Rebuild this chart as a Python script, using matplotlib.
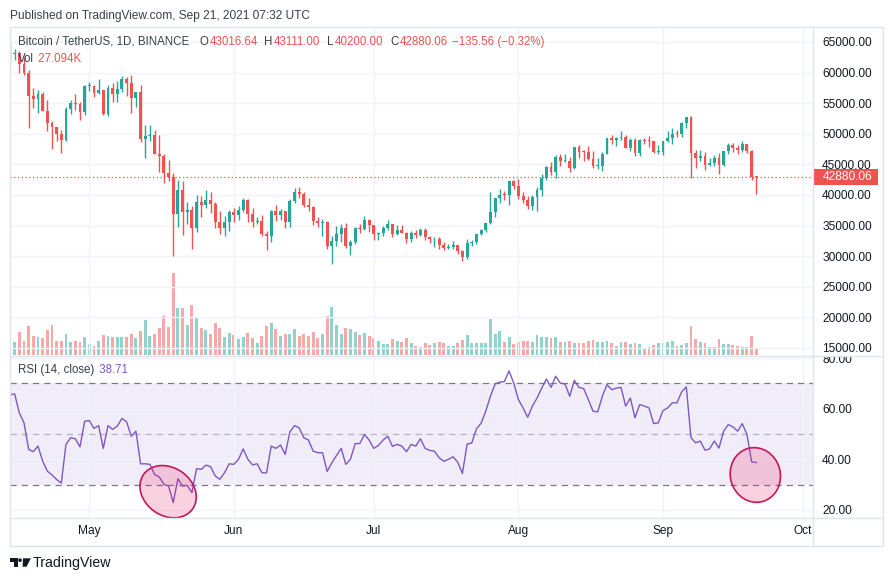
import numpy as np
import pandas as pd
import matplotlib
matplotlib.use("Agg")
import matplotlib.pyplot as plt
import matplotlib.dates as mdates
from matplotlib.patches import Ellipse, Rectangle, Polygon, Circle
from matplotlib.lines import Line2D
from matplotlib import transforms

plt.rcParams['font.family'] = ['Liberation Sans', 'DejaVu Sans']

# ---- data (BTCUSDT daily, 2021-04-14 .. 2021-09-21) ----
start_day = "2021-04-14"

opens = [63575, 62959, 63159, 61334, 60006, 56150, 55633, 56425, 53787, 51690, 51125, 50047, 49004, 54021, 55033, 54824, 53555,
         57750, 57828, 56610, 57213, 53241, 57473, 56428, 57380, 58928, 58280, 55883, 56750, 49150, 49716, 49880, 46760,
         46431, 43538, 42910, 36964, 40784, 37280, 37528, 34655, 38796, 38324, 39241, 38529, 35663, 34605, 35641,
         37253, 36694, 37568, 39246, 36829, 35513, 35796, 33552, 33380, 37389, 36693, 37313, 35551, 39020, 40516,
         40144, 38349, 38092, 35820, 35483, 35600, 31608, 32509, 33678, 34663, 31594, 32243, 34650, 34434, 35867,
         35040, 33572, 33801, 34668, 35287, 33690, 34220, 33862, 32875, 33815, 33502, 34258, 33086, 32729, 32820,
         31880, 31383, 31520, 31778, 30839, 29790, 32144, 32287, 33634, 34258, 35425, 37208, 39456, 40016, 40000, 42206,
         41461, 39845, 39147, 38207, 39723, 40862, 42836, 44614, 43792, 46284, 45543, 45595, 44428, 47793, 47096,
         47019, 45936, 44686, 44741, 46760, 49339, 48905, 49321, 49546, 47706, 48960, 46942, 49058, 48897, 48767, 46970,
         47100, 48810, 49246, 49999, 49915, 51756, 52663, 46863, 46048, 46395, 44850, 45174, 46026, 44940, 47111,
         48121, 47738, 47299, 48292, 47241, 43016.64]

highs = [64854, 63800, 63520, 62500, 60499, 57526, 57076, 56757, 55521, 52131, 51166, 50567, 54356, 55460, 56428, 55200, 58000,
         58458, 57911, 58981, 57214, 57911, 58360, 58650, 59500, 59300, 59592, 56862, 58000, 51367, 51483, 50700, 49800,
         46643, 45799, 43546, 42451, 42250, 38829, 38270, 39920, 39791, 40841, 40411, 38877, 37338, 36488, 37499,
         37896, 38225, 39476, 39289, 37925, 36480, 36800, 34068, 37534, 38400, 37680, 37463, 39380, 41064, 41330,
         40527, 39559, 38202, 36457, 36137, 35750, 33298, 34881, 35298, 35500, 32700, 34749, 35297, 36600, 36100,
         35036, 33939, 34945, 35967, 35293, 35118, 35059, 33929, 34100, 34262, 34666, 34678, 33340, 33114, 33185,
         32249, 31936, 32435, 31899, 31064, 32858, 32591, 33650, 34500, 35398, 40550, 39542, 40900, 40640, 42316,
         42448, 42599, 40480, 39780, 39969, 41350, 43392, 44700, 45310, 46454, 46718, 46743, 46218, 47886, 48144,
         47400, 48053, 47160, 46000, 47033, 49382, 49757, 49500, 50500, 49870, 49286, 49344, 49195, 49309, 49657,
         48899, 48246, 48843, 50392, 51000, 50558, 51900, 52780, 52920, 47359, 47399, 47033, 45968, 46460, 46879,
         47250, 48475, 48486, 48150, 48843, 48372, 47359, 43111.00]

lows = [61301, 62020, 60000, 59580, 50931, 54221, 53329, 53696, 50500, 47500, 48753, 46930, 48817, 53222, 53813, 52330, 53013,
        57052, 56035, 56438, 53046, 52900, 55200, 55241, 56900, 56235, 53400, 54370, 48600, 46000, 48800, 46650, 43825,
        42001, 42250, 30000, 34850, 33488, 35200, 31111, 34031, 36419, 37800, 37134, 34684, 33632, 33379, 34153,
        35666, 35920, 37170, 35555, 34800, 35258, 33300, 31000, 32397, 35800, 35936, 34600, 34757, 38730, 39506,
        38116, 37365, 35129, 34803, 33336, 31251, 28805, 31683, 32286, 31275, 30151, 31973, 33862, 34233, 34017,
        32711, 32699, 33316, 34357, 33125, 33532, 33777, 32077, 32261, 33004, 33306, 32658, 32202, 31550, 31133,
        31020, 31164, 31108, 30408, 29278, 29482, 31708, 31924, 33401, 33881, 35205, 36383, 38772, 39200, 38313,
        41000, 39422, 38690, 37642, 37508, 37332, 39853, 42446, 43261, 42779, 44672, 45341, 43770, 44218, 45971,
        45525, 45660, 44376, 44203, 43927, 46622, 48273, 48050, 49029, 47600, 47136, 46300, 46365, 48370, 47762,
        46853, 46700, 46512, 48636, 48316, 49400, 49450, 50969, 42843, 44412, 45513, 44132, 44770, 44743, 43370,
        44750, 46705, 47035, 46700, 47033, 46829, 42500, 40200.00]

closes = [62959, 63159, 61334, 60006, 56150, 55633, 56425, 53787, 51690, 51125, 50047, 49004, 54021, 55033, 54824, 53555, 57750,
          57828, 56610, 57213, 53241, 57473, 56428, 57380, 58928, 58280, 55883, 56750, 49150, 49716, 49880, 46760, 46431,
          43538, 42910, 36964, 40784, 37280, 37528, 34655, 38796, 38324, 39241, 38529, 35663, 34605, 35641, 37253,
          36694, 37568, 39246, 36829, 35513, 35796, 33552, 33380, 37389, 36693, 37313, 35551, 39020, 40516, 40144,
          38349, 38092, 35820, 35483, 35600, 31608, 32509, 33678, 34663, 31594, 32243, 34650, 34434, 35867, 35040,
          33572, 33801, 34668, 35287, 33690, 34220, 33862, 32875, 33815, 33502, 34258, 33086, 32729, 32820, 31880,
          31383, 31520, 31778, 30839, 29790, 32144, 32287, 33634, 34258, 35425, 37208, 39456, 40016, 40000, 42206,
          41461, 39845, 39147, 38207, 39723, 40862, 42836, 44614, 43792, 46284, 45543, 45595, 44428, 47793, 47096,
          47019, 45936, 44686, 44741, 46760, 49339, 48905, 49321, 49546, 47706, 48960, 46942, 49058, 48897, 48767,
          46970, 47100, 48810, 49246, 49999, 49915, 51756, 52663, 46863, 46048, 46395, 44850, 45174, 46026, 44940,
          47111, 48121, 47738, 47299, 48292, 47241, 43015.62, 42880.06]

# volume in thousands of BTC
volumes_k = [78, 49, 84, 53, 109, 72, 68, 62, 94, 112, 53, 53, 78, 49, 53, 49, 66,
             42, 35, 53, 75, 72, 66, 68, 66, 66, 79, 62, 90, 131, 72, 79, 101,
             146, 105, 305, 175, 175, 112, 187, 142, 101, 94, 79, 120, 101, 68, 83,
             75, 60, 68, 83, 64, 46, 72, 109, 120, 98, 72, 79, 79, 98, 72,
             79, 72, 86, 64, 79, 146, 179, 112, 79, 101, 98, 86, 75, 83, 72,
             64, 53, 42, 42, 60, 53, 49, 64, 46, 35, 31, 46, 38, 46, 49,
             46, 35, 35, 46, 57, 75, 46, 46, 46, 46, 135, 79, 90, 49, 68,
             42, 49, 53, 53, 49, 75, 68, 68, 64, 68, 49, 49, 53, 46, 46,
             46, 53, 57, 49, 49, 53, 45, 35, 49, 49, 42, 46, 42, 27, 31,
             38, 46, 46, 49, 53, 35, 38, 46, 109, 60, 49, 46, 31, 31, 60,
             42, 42, 38, 35, 31, 31, 72, 27.094]

rsi = [65.5, 65.8, 58.3, 54.4, 43.9, 43.0, 45.2, 39.3, 35.3, 33.8, 32.0, 30.6, 45.9, 48.5, 48.1, 44.9, 55.0,
       55.3, 52.2, 53.3, 44.3, 53.3, 51.8, 53.1, 56.1, 54.8, 49.1, 51.1, 38.2, 38.2, 38.0, 34.0, 33.0,
       30.1, 29.4, 22.9, 32.3, 29.4, 29.7, 26.8, 36.3, 36.0, 37.7, 37.1, 33.4, 32.1, 34.7, 38.2,
       38.0, 40.0, 44.1, 40.0, 37.8, 38.2, 34.7, 34.6, 45.2, 44.3, 45.6, 41.9, 50.8, 53.3, 52.4,
       48.5, 47.6, 43.2, 42.6, 42.6, 35.2, 38.6, 41.5, 44.3, 38.0, 40.0, 46.2, 46.2, 49.8, 47.6,
       44.3, 45.5, 47.6, 49.1, 45.1, 45.9, 45.2, 43.0, 45.9, 45.2, 48.1, 44.3, 43.5, 43.2, 40.6,
       39.2, 40.0, 41.0, 38.8, 34.4, 46.0, 46.4, 52.0, 54.2, 59.0, 64.9, 69.7, 70.5, 70.7, 74.9,
       70.1, 63.6, 60.3, 56.6, 61.0, 64.2, 68.1, 71.7, 68.4, 72.8, 70.1, 69.7, 64.9, 71.2, 68.4,
       67.9, 63.6, 59.0, 58.7, 64.9, 69.5, 67.5, 68.1, 68.4, 61.0, 64.2, 56.4, 61.6, 61.0, 60.3,
       54.1, 54.4, 59.2, 60.3, 62.3, 62.3, 66.6, 68.6, 48.5, 46.5, 47.2, 43.6, 44.1, 47.2, 44.4,
       51.1, 53.7, 52.8, 51.1, 54.1, 49.8, 39.0, 38.71]

month_ticks = ["2021-05-01", "2021-06-01", "2021-07-01", "2021-08-01", "2021-09-01", "2021-10-01"]
month_labels = ["May", "Jun", "Jul", "Aug", "Sep", "Oct"]
price_ticks = [15000, 20000, 25000, 30000, 35000, 40000, 45000, 50000, 55000, 60000, 65000]
rsi_ticks = [20, 40, 60, 80]

# ---- style ----
UP, DOWN = '#26a69a', '#ef5350'
VUP, VDOWN = '#92d2cc', '#f7a9a7'
PURPLE = '#7e57c2'
GRID = '#f0f3fa'
BORDER = '#e0e3eb'
TXT = '#131722'
LBL = '#3a3e4a'
FS = 8.6
HFS = 8.3  # legend row size

W, H = 892, 581
fig = plt.figure(figsize=(W / 100, H / 100), dpi=100)


def box(l, t, r, b):
    return [l / W, 1 - b / H, (r - l) / W, (b - t) / H]


dates = pd.date_range(start_day, periods=len(closes), freq='D')
x = mdates.date2num(dates)
o, h, l, c = map(np.array, (opens, highs, lows, closes))
up = c >= o
cols = np.where(up, UP, DOWN)

# price pane
ax = fig.add_axes(box(10, 27, 812.7, 355))
axv = ax.twinx()
axv.bar(x, volumes_k, width=0.62, color=np.where(up, VUP, VDOWN), linewidth=0)
axv.set_ylim(0, 1216)
axv.set_yticks([])
ax.set_zorder(axv.get_zorder() + 1)
ax.patch.set_visible(False)

ax.vlines(x, l, h, colors=cols, lw=1, zorder=3)
ax.bar(x, np.maximum(np.abs(c - o), 160), bottom=np.minimum(o, c), width=0.62,
       color=cols, linewidth=0, zorder=4)
ax.axhline(c[-1], color=DOWN, lw=0.9, ls=(0, (1, 2)), zorder=2)

ax.set_xlim(x[0], x[0] + 172.1)
ax.set_ylim(13856, 67450)
ax.yaxis.tick_right()
ax.set_yticks(price_ticks)
ax.set_yticklabels([f"{v:.2f}" for v in price_ticks])
ax.tick_params(axis='y', length=0, pad=6.8, labelsize=FS, labelcolor=TXT)
ax.tick_params(axis='x', bottom=False, labelbottom=False)
month_x = mdates.date2num(pd.to_datetime(month_ticks))
ax.set_xticks(month_x)
ax.grid(color=GRID, lw=1, zorder=0)
for a in (ax, axv):
    for s in a.spines.values():
        s.set_visible(False)

# last price tag on the price scale
tag = transforms.blended_transform_factory(ax.transAxes, ax.transData)
tag_h = 16 / 328 * (67450 - 13856)
ax.add_patch(Rectangle((1.0, c[-1] - tag_h / 2), 65 / 802.7, tag_h, transform=tag,
                       fc=DOWN, ec='none', clip_on=False, zorder=6))
ax.annotate(f"{c[-1]:.2f}", xy=(1, c[-1]), xycoords=('axes fraction', 'data'),
            xytext=(7.0, 0), textcoords='offset points', va='center', ha='left',
            fontsize=FS, color='white', annotation_clip=False, zorder=7)

# RSI pane
ar = fig.add_axes(box(10, 356, 812.7, 518))
ar.axhspan(30, 70, color=PURPLE, alpha=0.1, lw=0)
ar.axhline(70, color='#787b86', lw=0.9, ls=(0, (5, 4)))
ar.axhline(50, color='#787b86', lw=0.9, alpha=0.5, ls=(0, (5, 4)))
ar.axhline(30, color='#787b86', lw=0.9, ls=(0, (5, 4)))
ar.plot(x, rsi, color=PURPLE, lw=1)
ar.set_xlim(ax.get_xlim())
ar.set_ylim(16.8, 80.8)
ar.yaxis.tick_right()
ar.set_yticks(rsi_ticks)
ar.set_yticklabels([f"{v:.2f}" for v in rsi_ticks])
ar.set_xticks(month_x)
ar.set_xticklabels(month_labels)
ar.tick_params(axis='y', length=0, pad=6.8, labelsize=FS, labelcolor=TXT)
ar.tick_params(axis='x', length=0, pad=5, labelsize=FS, labelcolor=TXT)
ar.grid(color=GRID, lw=1, zorder=0)
for s in ar.spines.values():
    s.set_visible(False)

# keep the top RSI label inside its own pane, as TradingView does
clip = transforms.TransformedBbox(transforms.Bbox.from_extents(812 / W, 1 - 518 / H, 882 / W, 1 - 356 / H),
                                  fig.transFigure)
for lbl in ar.get_yticklabels():
    lbl.set_clip_box(clip)
    lbl.set_clip_on(True)


def mark(axis, day, val, w, hgt, ang):
    t = fig.dpi_scale_trans + transforms.ScaledTranslation(day, val, axis.transData)
    axis.add_patch(Ellipse((0, 0), w / 100, hgt / 100, angle=ang, transform=t,
                           facecolor=(0.91, 0.12, 0.39, 0.2), edgecolor='#c2185b',
                           lw=1.2, clip_on=False, zorder=5))


mark(ar, x[0] + 33.9, 27.2, 60, 48, -35)
mark(ar, x[0] + 159.8, 33.8, 50, 55, 15)

# overlay: frame, legends, logo
ov = fig.add_axes([0, 0, 1, 1], zorder=10)
ov.set_xlim(0, W)
ov.set_ylim(H, 0)
ov.axis('off')
ov.add_patch(Rectangle((9.5, 26.5), 873, 519, fill=False, ec=BORDER, lw=1))
for seg in (((812.7, 812.7), (26.5, 545.5)), ((9.5, 882.5), (355.5, 355.5)),
            ((9.5, 882.5), (518.3, 518.3))):
    ov.add_line(Line2D(seg[0], seg[1], color=BORDER, lw=1))

ov.text(10.5, 15.5, "Published on TradingView.com, Sep 21, 2021 07:32 UTC",
        fontsize=FS, color=LBL, va='center')


def pair(px, py, key, val, vcol):
    k = ov.text(px, py, key, fontsize=HFS, color=LBL, va='center')
    ov.annotate(val, xy=(1, 0.5), xycoords=k, xytext=(1.0, 0), textcoords='offset points',
                va='center', ha='left', fontsize=HFS, color=vcol)


ov.text(18, 42, "Bitcoin / TetherUS, 1D, BINANCE", fontsize=HFS, color=LBL, va='center')
for lx, letter, val in ((199.3, "O", o[-1]), (264, "H", h[-1]), (326.7, "L", l[-1]), (390, "C", c[-1])):
    pair(lx, 42, letter, f"{val:.2f}", DOWN)
chg = c[-1] - c[-2]
ov.text(451.7, 42, f"{chg:.2f} ({chg / c[-2] * 100:.2f}%)".replace('-', '\u2212'),
        fontsize=HFS, color=DOWN, va='center')
pair(18, 59.5, "Vol", f" {volumes_k[-1]:.3f}K", DOWN)
pair(18, 370, "RSI (14, close)", f" {rsi[-1]:.2f}", PURPLE)

ov.add_patch(Rectangle((10, 558.3), 7.5, 3.2, color=TXT, lw=0))
ov.add_patch(Rectangle((14, 558.3), 3.5, 8.4, color=TXT, lw=0))
ov.add_patch(Circle((20, 560.2), 1.8, color=TXT, lw=0))
ov.add_patch(Polygon([(23, 558.3), (30.8, 558.3), (26.6, 566.7), (22.6, 566.7)], closed=True, color=TXT, lw=0))
ov.text(33, 562.5, "TradingView", fontsize=10.2, color=TXT, va='center')

fig.savefig("out.png", dpi=100)
